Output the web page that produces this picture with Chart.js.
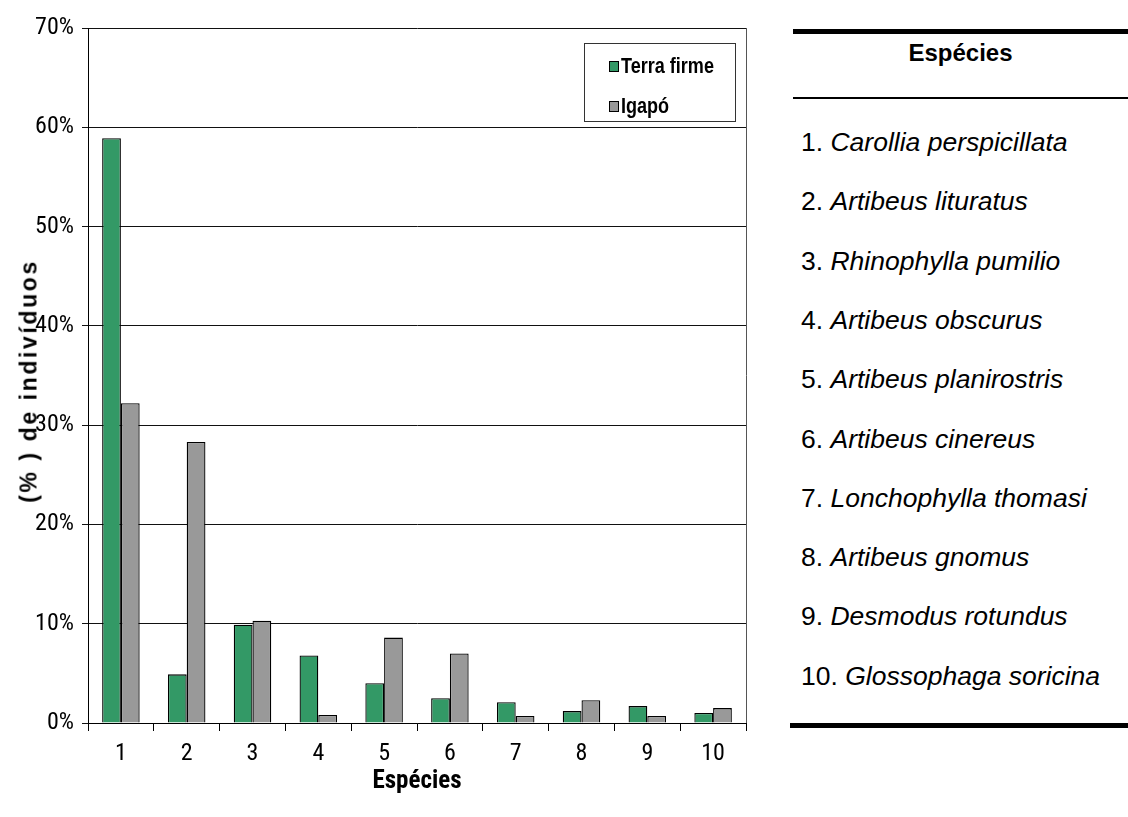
<!DOCTYPE html>
<html>
<head>
<meta charset="utf-8">
<script src="https://cdn.jsdelivr.net/npm/chart.js@4"></script>
<style>
  html, body { margin: 0; padding: 0; background: #fff; }
  body { width: 1128px; height: 817px; position: relative; overflow: hidden; font-family: "Liberation Sans", Arial, sans-serif; }
  #chart { position: absolute; left: 0; top: 0; }
  #ytitle {
    position: absolute; left: 29px; top: 381px;
    transform: translate(-50%, -50%) rotate(-90deg);
    white-space: nowrap; font-weight: bold; font-size: 23px; letter-spacing: 2.6px;
    font-family: "Liberation Sans", Arial, sans-serif; color: #000;
  }
  #legend {
    position: absolute; left: 584px; top: 43px; width: 152px; height: 79px;
    border: 1px solid #333; box-sizing: border-box;
    font-family: "Liberation Sans", Arial, sans-serif; font-weight: bold; font-size: 22px;
  }
  .li { position: absolute; left: 24px; height: 26px; display: flex; align-items: center; white-space: nowrap; }
  .sw { width: 10px; height: 11px; border: 1px solid #000; margin-right: 2px; box-sizing: border-box; flex: none; }
  .lt { display: inline-block; transform: scaleX(0.82); transform-origin: left center; }
  #table { position: absolute; left: 793px; top: 29px; width: 335px; height: 700px; }
  .thick { position: absolute; left: 0; right: 0; height: 5px; background: #000; }
  .thin { position: absolute; left: 0; right: 0; height: 2px; background: #000; }
  #head { position: absolute; left: 0; right: 0; text-align: center; font-weight: bold; font-size: 24px; transform: translateY(-50%); }
  .sp { position: absolute; left: 8px; font-size: 26.5px; white-space: nowrap; transform: translateY(-50%); }
  .sp i { font-style: italic; }
</style>
</head>
<body>
<canvas id="chart" width="760" height="817"></canvas>
<div id="ytitle">(% ) de indivíduos</div>
<div id="legend"></div>
<div id="table"></div>
<script>
// ---- data ----
const categories = ['1', '2', '3', '4', '5', '6', '7', '8', '9', '10'];
const terraFirme = [58.9, 4.9, 9.9, 6.8, 4.0, 2.5, 2.1, 1.2, 1.7, 1.0];
const igapo      = [32.2, 28.3, 10.3, 0.8, 8.6, 7.0, 0.7, 2.3, 0.7, 1.5];
const seriesNames = ['Terra firme', 'Igapó'];
const yTickValues = [0, 10, 20, 30, 40, 50, 60, 70];
const xTitle = 'Espécies';
const tableTitle = 'Espécies';
const speciesNames = [
  'Carollia perspicillata', 'Artibeus lituratus', 'Rhinophylla pumilio',
  'Artibeus obscurus', 'Artibeus planirostris', 'Artibeus cinereus',
  'Lonchophylla thomasi', 'Artibeus gnomus', 'Desmodus rotundus',
  'Glossophaga soricina'
];

const colors = ['#339966', '#999999'];

// pick a condensed face if one is installed, else plain Liberation Sans
function pickNarrow() {
  const c = document.createElement('canvas').getContext('2d');
  const s = 'Terra firme 0123456789% Espécies';
  c.font = '100px "Liberation Sans"';
  const base = c.measureText(s).width;
  const cands = ['"Liberation Sans Narrow"', '"Arial Narrow"', '"DejaVu Sans Condensed"', '"Noto Sans Condensed"', '"Roboto Condensed"', '"Open Sans Condensed"'];
  for (const f of cands) {
    c.font = '100px ' + f + ', "Liberation Sans"';
    const w = c.measureText(s).width;
    if (Math.abs(w - base) > 2 && w < base) return { family: f + ', "Liberation Sans"', ratio: w / base };
  }
  return { family: '"Liberation Sans"', ratio: 1 };
}
const nf = pickNarrow();
const tickSize = Math.round(20.5 / nf.ratio);
const xTitleSize = Math.round(22 / nf.ratio);

const frame = {
  id: 'frame',
  afterDraw(chart) {
    const {ctx, chartArea: a} = chart;
    ctx.save();
    ctx.strokeStyle = '#555';
    ctx.lineWidth = 1;
    ctx.beginPath();
    ctx.moveTo(Math.round(a.right) + 0.5, a.top);
    ctx.lineTo(Math.round(a.right) + 0.5, a.bottom);
    ctx.stroke();
    ctx.restore();
  }
};

const chart = new Chart(document.getElementById('chart'), {
  type: 'bar',
  data: {
    labels: categories,
    datasets: [
      { label: seriesNames[0], data: terraFirme, backgroundColor: colors[0], borderColor: '#000', borderWidth: 1.3 },
      { label: seriesNames[1], data: igapo, backgroundColor: colors[1], borderColor: '#000', borderWidth: 1.3 }
    ]
  },
  options: {
    responsive: false,
    animation: false,
    devicePixelRatio: 1,
    layout: { padding: { top: 28, right: 14, left: 0, bottom: 0 } },
    datasets: { bar: { categoryPercentage: 0.57, barPercentage: 1.0 } },
    plugins: { legend: { display: false }, tooltip: { enabled: false } },
    scales: {
      x: {
        offset: true,
        grid: { display: true, drawOnChartArea: false, drawTicks: true, tickLength: 8, color: '#000', offset: true },
        border: { display: true, color: '#000', width: 1 },
        ticks: { color: '#000', font: { family: nf.family, size: tickSize }, padding: 9 },
        title: { display: true, text: xTitle, color: '#000', font: { family: nf.family, size: xTitleSize, weight: 'bold' }, padding: { top: 0, bottom: 20 } },
        afterFit(scale) { scale.height = 94; }
      },
      y: {
        min: 0, max: 70,
        afterBuildTicks(scale) { scale.ticks = yTickValues.map(v => ({ value: v })); },
        grid: { color: '#111', lineWidth: 1, tickLength: 6, drawTicks: true },
        border: { display: true, color: '#000', width: 1 },
        ticks: { color: '#000', font: { family: nf.family, size: tickSize }, padding: 8, callback: v => v + '%' },
        afterFit(scale) { scale.width = 88; }
      }
    }
  },
  plugins: [frame]
});

// legend from datasets
const lg = document.getElementById('legend');
chart.data.datasets.forEach((ds, i) => {
  const d = document.createElement('div');
  d.className = 'li';
  d.style.top = (i === 0 ? 9 : 49) + 'px';
  const sw = document.createElement('span');
  sw.className = 'sw';
  sw.style.background = ds.backgroundColor;
  const t = document.createElement('span');
  t.className = 'lt';
  t.textContent = ds.label;
  d.appendChild(sw); d.appendChild(t);
  lg.appendChild(d);
});

// species table
const tb = document.getElementById('table');
const top1 = document.createElement('div'); top1.className = 'thick'; top1.style.top = '0px'; tb.appendChild(top1);
const head = document.createElement('div'); head.id = 'head'; head.style.top = '24px'; head.textContent = tableTitle; tb.appendChild(head);
const thin = document.createElement('div'); thin.className = 'thin'; thin.style.top = '68px'; tb.appendChild(thin);
speciesNames.forEach((n, i) => {
  const d = document.createElement('div');
  d.className = 'sp';
  d.style.top = (113 + i * 59.3) + 'px';
  d.appendChild(document.createTextNode((i + 1) + '. '));
  const it = document.createElement('i');
  it.textContent = n;
  d.appendChild(it);
  tb.appendChild(d);
});
const bot = document.createElement('div'); bot.className = 'thick'; bot.style.top = '694px'; bot.style.left = '-3px'; tb.appendChild(bot);
</script>
</body>
</html>
